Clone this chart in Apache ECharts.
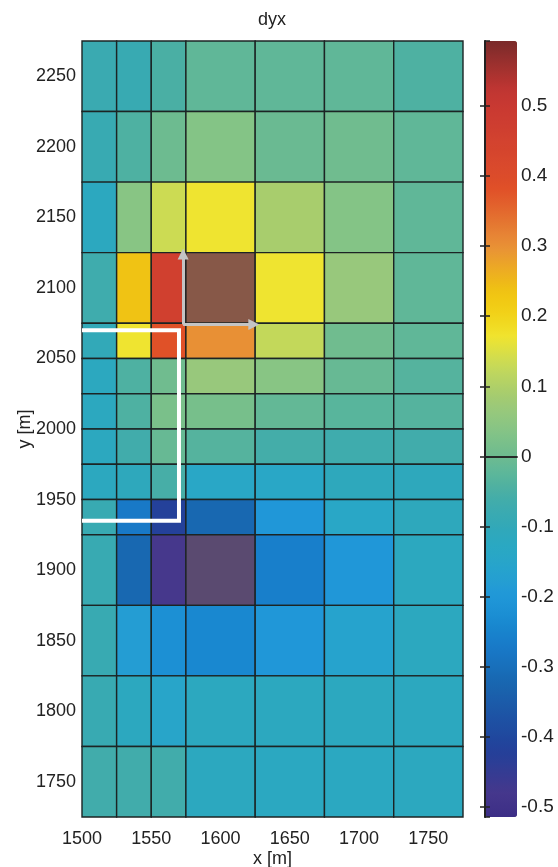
<!DOCTYPE html>
<html><head><meta charset="utf-8">
<script src="https://cdn.jsdelivr.net/npm/echarts@6/dist/echarts.min.js"></script>
<style>html,body{margin:0;padding:0;background:#fff}#c{width:558px;height:867px}</style>
</head><body><div id="c"></div>
<script>
// cell edges (x left->right, y top->bottom)
const xEdges = [1500, 1525, 1550, 1575, 1625, 1675, 1725, 1775];
const yEdges = [2275, 2225, 2175, 2125, 2075, 2050, 2025, 2000, 1975, 1950, 1925, 1875, 1825, 1775, 1725];
// dyx values, one row per y band (top to bottom), one column per x band
const row2250 = [-0.080, -0.085, -0.050, -0.020, -0.020, -0.020, -0.045];
const row2200 = [-0.085, -0.045,  0.000,  0.035, -0.005,  0.005, -0.020];
const row2150 = [-0.120,  0.040,  0.135,  0.170,  0.090,  0.035, -0.020];
const row2100 = [-0.070,  0.235,  0.460,  0.650,  0.170,  0.065, -0.020];
const row2062 = [-0.100,  0.170,  0.380,  0.300,  0.125,  0.005, -0.020];
const row2037 = [-0.120, -0.045,  0.005,  0.065,  0.040, -0.010, -0.035];
const row2012 = [-0.120, -0.045,  0.020,  0.015, -0.015, -0.030, -0.035];
const row1987 = [-0.120, -0.065, -0.010, -0.035, -0.060, -0.070, -0.065];
const row1962 = [-0.120, -0.110, -0.055, -0.140, -0.140, -0.110, -0.110];
const row1937 = [-0.085, -0.275, -0.420, -0.320, -0.200, -0.140, -0.110];
const row1900 = [-0.085, -0.320, -0.480, -0.560, -0.260, -0.200, -0.120];
const row1850 = [-0.085, -0.180, -0.220, -0.240, -0.200, -0.160, -0.120];
const row1800 = [-0.085, -0.120, -0.150, -0.120, -0.120, -0.120, -0.120];
const row1750 = [-0.065, -0.065, -0.065, -0.120, -0.125, -0.125, -0.120];
const dyx = [row2250, row2200, row2150, row2100, row2062, row2037, row2012,
             row1987, row1962, row1937, row1900, row1850, row1800, row1750];
const cbarMin = -0.515, cbarMax = 0.593;
// overlay annotations (data coordinates)
const bracket = [[1500, 2070], [1570, 2070], [1570, 1935], [1500, 1935]];
const arrowUp = [[1573, 2074], [1573, 2124]];
const arrowRight = [[1573, 2074], [1624, 2074]];

// colormap stops [value, colour]
const cmapStops = [
  [-0.515, '#3b2d86'], [-0.48, '#46388c'], [-0.42, '#22409a'], [-0.32, '#1868b0'],
  [-0.275, '#1878c8'], [-0.24, '#1888d0'], [-0.2, '#2098d8'], [-0.17, '#26a0d0'],
  [-0.14, '#28a8c6'], [-0.11, '#2ea8bc'], [-0.085, '#38aab2'], [-0.065, '#40acac'],
  [-0.045, '#4eb0a2'], [-0.02, '#60b898'], [0.005, '#70bc8e'], [0.035, '#84c486'],
  [0.065, '#98c87c'], [0.09, '#a8cc6c'], [0.125, '#c2d85c'], [0.17, '#f0e430'],
  [0.2, '#f2d418'], [0.235, '#f0c410'], [0.3, '#e89038'], [0.38, '#e05028'],
  [0.46, '#d04030'], [0.52, '#c43632'], [0.593, '#7a2a2a']
];
function hex2rgb(h){return [parseInt(h.slice(1,3),16),parseInt(h.slice(3,5),16),parseInt(h.slice(5,7),16)];}
function cmapAt(v){
  for (let i = 0; i < cmapStops.length - 1; i++) {
    const a = cmapStops[i], b = cmapStops[i+1];
    if (v <= b[0]) {
      const t = Math.max(0, (v - a[0]) / (b[0] - a[0]));
      const ca = hex2rgb(a[1]), cb = hex2rgb(b[1]);
      return 'rgb(' + ca.map((x, k) => Math.round(x + (cb[k] - x) * t)).join(',') + ')';
    }
  }
  return cmapStops[cmapStops.length-1][1];
}
const N = 64, cmap = [];
for (let i = 0; i < N; i++) cmap.push(cmapAt(cbarMin + (cbarMax - cbarMin) * i / (N - 1)));

const cells = [];
dyx.forEach((row, r) => row.forEach((v, c) => {
  cells.push([xEdges[c], xEdges[c+1], yEdges[r+1], yEdges[r], v]);
}));

const FONT = '"Liberation Sans", Arial, sans-serif';
const TXT = '#222';
const plain = v => String(v);
const chart = echarts.init(document.getElementById('c'));
chart.setOption({
  animation: false,
  backgroundColor: '#fff',
  textStyle: {fontFamily: FONT},
  graphic: [{type: 'text', x: 272, y: 20, style: {text: 'dyx', font: '18px ' + FONT, fill: TXT, align: 'center', verticalAlign: 'middle'}}],
  grid: [
    {left: 82, top: 41, width: 381, height: 776, outerBoundsMode: 'none', containLabel: false},
    {left: 485, top: 41, width: 32, height: 776, outerBoundsMode: 'none', containLabel: false}
  ],
  xAxis: [
    {gridIndex: 0, type: 'value', min: 1500, max: 1775, interval: 50,
     axisLine: {show: false}, axisTick: {show: false}, splitLine: {show: false},
     axisLabel: {showMaxLabel: false, fontSize: 18, color: TXT, margin: 13, fontFamily: FONT, formatter: plain},
     name: 'x [m]', nameLocation: 'middle', nameGap: 33, nameMoveOverlap: false,
     nameTextStyle: {fontSize: 18, color: TXT, fontFamily: FONT}},
    {gridIndex: 1, type: 'value', min: 0, max: 1, position: 'bottom', z: 10,
     axisLine: {show: true, lineStyle: {color: '#222', width: 1.5}}, axisTick: {show: false},
     axisLabel: {show: false}, splitLine: {show: false}},
    {gridIndex: 1, type: 'value', min: 0, max: 1, position: 'top', z: 10,
     axisLine: {show: true, lineStyle: {color: '#222', width: 1.5}}, axisTick: {show: false},
     axisLabel: {show: false}, splitLine: {show: false}}
  ],
  yAxis: [
    {gridIndex: 0, type: 'value', min: 1725, max: 2275, splitNumber: 11,
     axisLine: {show: false}, axisTick: {show: false}, splitLine: {show: false},
     axisLabel: {showMinLabel: false, showMaxLabel: false, fontSize: 18, color: TXT, margin: 6, fontFamily: FONT, formatter: plain},
     name: 'y [m]', nameLocation: 'middle', nameGap: 48, nameRotate: 90, nameMoveOverlap: false,
     nameTextStyle: {fontSize: 18, color: TXT, fontFamily: FONT}},
    {gridIndex: 1, type: 'value', min: cbarMin, max: cbarMax, splitNumber: 10, position: 'right', z: 10,
     axisLine: {show: true, lineStyle: {color: '#222', width: 2}},
     axisTick: {show: true, inside: true, length: 5, lineStyle: {color: '#222', width: 1.5}},
     axisLabel: {showMinLabel: false, showMaxLabel: false, fontSize: 19, color: TXT, margin: 4, fontFamily: FONT},
     splitLine: {show: false}},
    {gridIndex: 1, type: 'value', min: cbarMin, max: cbarMax, splitNumber: 10, position: 'left', z: 10,
     axisLine: {show: true, lineStyle: {color: '#222', width: 1.5}},
     axisTick: {show: true, inside: true, length: 5, lineStyle: {color: '#222', width: 1.5}},
     axisLabel: {show: false}, splitLine: {show: false}}
  ],
  visualMap: {
    type: 'continuous', min: cbarMin, max: cbarMax, range: [cbarMin + 1e-6, cbarMax - 1e-6],
    seriesIndex: 0, dimension: 4,
    inRange: {color: cmap}, outOfRange: {color: ['#5a4a70', '#875848']},
    calculable: false, hoverLink: false, left: 485, top: 41, itemWidth: 32, itemHeight: 776,
    padding: 0, orient: 'vertical'
  },
  series: [
    {type: 'custom', xAxisIndex: 0, yAxisIndex: 0, data: cells,
     encode: {x: [0, 1], y: [2, 3]},
     renderItem: function (params, api) {
       const p0 = api.coord([api.value(0), api.value(3)]);
       const p1 = api.coord([api.value(1), api.value(2)]);
       return {type: 'rect', shape: {x: p0[0], y: p0[1], width: p1[0] - p0[0], height: p1[1] - p0[1]},
               style: {fill: api.visual('color'), stroke: '#1c2424', lineWidth: 1.4}};
     }},
    {type: 'lines', coordinateSystem: 'cartesian2d', xAxisIndex: 0, yAxisIndex: 0, polyline: true, z: 5,
     data: [{coords: bracket}], lineStyle: {color: '#ffffff', width: 4, opacity: 1}, silent: true},
    {type: 'lines', coordinateSystem: 'cartesian2d', xAxisIndex: 0, yAxisIndex: 0, z: 6,
     symbol: ['none', 'triangle'], symbolSize: 11,
     data: [{coords: arrowUp}, {coords: arrowRight}],
     lineStyle: {color: '#c4c4c4', width: 3, opacity: 1}, silent: true}
  ]
});
</script></body></html>
